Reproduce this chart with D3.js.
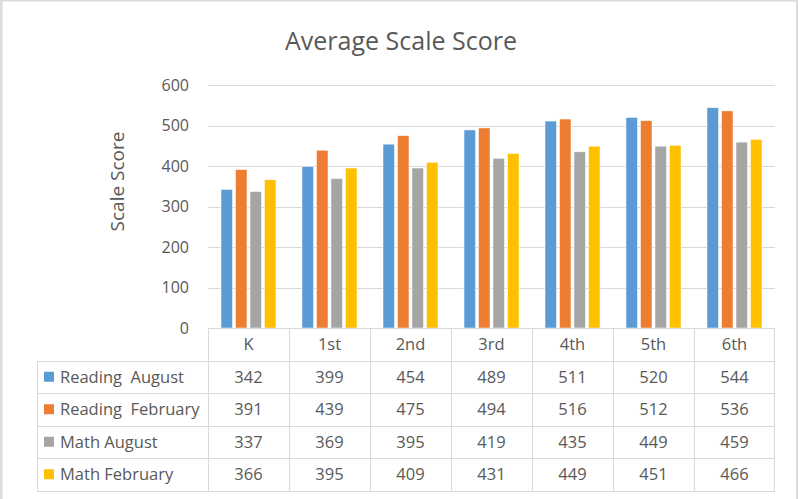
<!DOCTYPE html>
<html>
<head>
<meta charset="utf-8">
<script src="https://cdn.jsdelivr.net/npm/d3@7"></script>
<style>
  body { margin: 0; background: #fff; }
  text { font-family: "Open Sans", "Noto Sans", sans-serif; fill: #595959; }
</style>
</head>
<body>
<div id="chart"></div>
<script>
// Data
const categories = ["K", "1st", "2nd", "3rd", "4th", "5th", "6th"];
const seriesNames = ["Reading  August", "Reading  February", "Math August", "Math February"];
const readingAugust = [342, 399, 454, 489, 511, 520, 544];
const readingFebruary = [391, 439, 475, 494, 516, 512, 536];
const mathAugust = [337, 369, 395, 419, 435, 449, 459];
const mathFebruary = [366, 395, 409, 431, 449, 451, 466];
const yTicks = [0, 100, 200, 300, 400, 500, 600];

const seriesValues = [readingAugust, readingFebruary, mathAugust, mathFebruary];
const colors = ["#5b9bd5", "#ed7d31", "#a5a5a5", "#ffc000"];

const width = 798, height = 499;

const svg = d3.select("#chart").append("svg")
  .attr("width", width)
  .attr("height", height);

// frame strips (left, top, right) like the screenshot edge
svg.append("rect").attr("x", 0).attr("y", 0).attr("width", 2.5).attr("height", height).attr("fill", "#dcdcdc");
svg.append("rect").attr("x", 0).attr("y", 0).attr("width", width).attr("height", 1.5).attr("fill", "#dcdcdc");
svg.append("rect").attr("x", 796).attr("y", 0).attr("width", 2).attr("height", height).attr("fill", "#dcdcdc");

// title
svg.append("text")
  .attr("x", 401).attr("y", 50)
  .attr("text-anchor", "middle")
  .style("font-size", "25px")
  .text("Average Scale Score");

// plot area
const plotLeft = 208, plotRight = 775, plotTop = 85, plotBottom = 328;

const x = d3.scaleBand()
  .domain(categories)
  .range([plotLeft, plotRight]);

const y = d3.scaleLinear()
  .domain([0, 600])
  .range([plotBottom, plotTop]);

// bars inside each category
const groupW = 55;
const x1 = d3.scaleBand()
  .domain(d3.range(seriesNames.length))
  .range([0, groupW])
  .paddingInner(0.207);

// gridlines
svg.append("g")
  .selectAll("line")
  .data(yTicks.filter(d => d > 0))
  .enter().append("line")
  .attr("x1", plotLeft).attr("x2", plotRight)
  .attr("y1", d => Math.round(y(d)) + 0.5)
  .attr("y2", d => Math.round(y(d)) + 0.5)
  .attr("stroke", "#d9d9d9");

// y axis labels
svg.append("g")
  .selectAll("text")
  .data(yTicks)
  .enter().append("text")
  .attr("x", 189)
  .attr("y", d => y(d))
  .attr("dy", "0.35em")
  .attr("text-anchor", "end")
  .style("font-size", "16px")
  .text(d => d);

// y axis title
svg.append("text")
  .attr("transform", `translate(124,${(plotTop + plotBottom) / 2 - 25}) rotate(-90)`)
  .attr("text-anchor", "middle")
  .style("font-size", "19px")
  .text("Scale Score");

// bars
const groups = svg.append("g")
  .selectAll("g")
  .data(categories)
  .enter().append("g")
  .attr("transform", d => `translate(${x(d) + x.bandwidth() / 2 - groupW / 2},0)`);

groups.selectAll("rect")
  .data((d, i) => seriesValues.map((s, j) => ({ series: j, value: s[i] })))
  .enter().append("rect")
  .attr("x", d => x1(d.series))
  .attr("y", d => y(d.value))
  .attr("width", x1.bandwidth())
  .attr("height", d => y(0) - y(d.value))
  .attr("fill", d => colors[d.series])
  .attr("stroke", "#fff")
  .attr("stroke-width", 0.5);

// data table
const rowH = 32.5;
const tableLeft = 37;
const tableColor = "#d9d9d9";
const table = svg.append("g");

// horizontal lines: top axis line over the category columns, rest over full width
table.append("line")
  .attr("x1", plotLeft).attr("x2", plotRight)
  .attr("y1", plotBottom + 0.5).attr("y2", plotBottom + 0.5)
  .attr("stroke", tableColor);

d3.range(1, seriesNames.length + 2).forEach(r => {
  const yy = Math.round(plotBottom + r * rowH) + 0.5;
  table.append("line")
    .attr("x1", tableLeft).attr("x2", plotRight)
    .attr("y1", yy).attr("y2", yy)
    .attr("stroke", tableColor);
});

// vertical lines
const tableBottom = Math.round(plotBottom + (seriesNames.length + 1) * rowH) + 0.5;
table.append("line")
  .attr("x1", tableLeft + 0.5).attr("x2", tableLeft + 0.5)
  .attr("y1", Math.round(plotBottom + rowH) + 0.5).attr("y2", tableBottom)
  .attr("stroke", tableColor);

categories.forEach(c => {
  const xx = Math.round(x(c)) + 0.5;
  table.append("line")
    .attr("x1", xx).attr("x2", xx)
    .attr("y1", plotBottom + 0.5).attr("y2", tableBottom)
    .attr("stroke", tableColor);
});
table.append("line")
  .attr("x1", plotRight - 0.5).attr("x2", plotRight - 0.5)
  .attr("y1", plotBottom + 0.5).attr("y2", tableBottom)
  .attr("stroke", tableColor);

// header labels
table.selectAll(".head")
  .data(categories)
  .enter().append("text")
  .attr("class", "head")
  .attr("x", d => x(d) + x.bandwidth() / 2)
  .attr("y", plotBottom + rowH / 2)
  .attr("dy", "0.35em")
  .attr("text-anchor", "middle")
  .style("font-size", "16.5px")
  .text(d => d);

// rows
seriesNames.forEach((name, j) => {
  const cy = plotBottom + (j + 1.5) * rowH;
  table.append("rect")
    .attr("x", 44).attr("y", cy - 5)
    .attr("width", 10).attr("height", 10)
    .attr("fill", colors[j]);
  table.append("text")
    .attr("x", 60)
    .attr("y", cy)
    .attr("dy", "0.35em")
    .style("font-size", "16.5px")
    .style("white-space", "pre")
    .text(name);
  table.selectAll(".v" + j)
    .data(seriesValues[j])
    .enter().append("text")
    .attr("x", (d, i) => x(categories[i]) + x.bandwidth() / 2)
    .attr("y", cy)
    .attr("dy", "0.35em")
    .attr("text-anchor", "middle")
    .style("font-size", "16.5px")
    .text(d => d);
});
</script>
</body>
</html>
